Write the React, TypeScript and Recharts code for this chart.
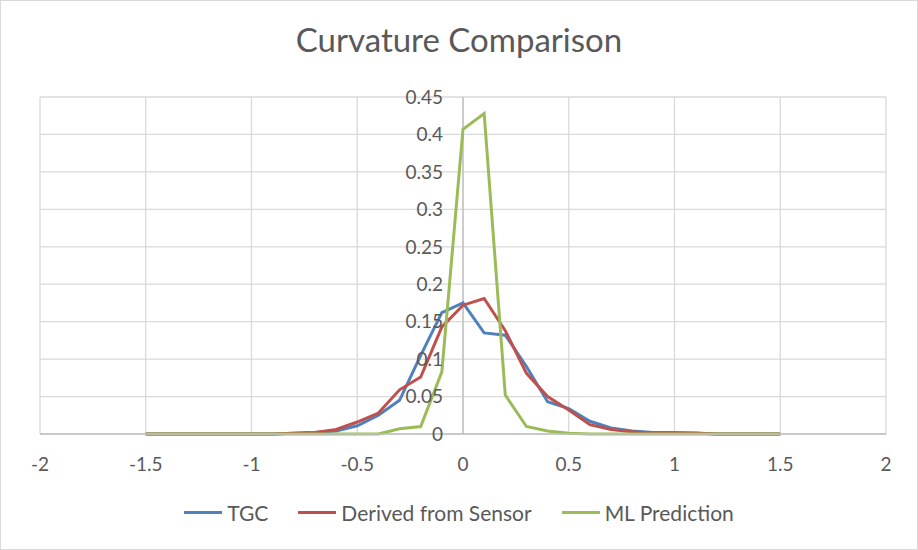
import React from 'react';
import {
  LineChart,
  Line,
  XAxis,
  YAxis,
  CartesianGrid,
  Legend,
  ReferenceLine,
  ReferenceDot,
} from 'recharts';

const xValues = [
  -1.5, -1.4, -1.3, -1.2, -1.1, -1.0, -0.9, -0.8, -0.7, -0.6, -0.5, -0.4, -0.3, -0.2, -0.1,
  0, 0.1, 0.2, 0.3, 0.4, 0.5, 0.6, 0.7, 0.8, 0.9, 1.0, 1.1, 1.2, 1.3, 1.4, 1.5,
];
const tgc = [
  0, 0, 0, 0, 0, 0, 0, 0.001, 0.002, 0.004, 0.011, 0.025, 0.045, 0.105, 0.162,
  0.175, 0.135, 0.132, 0.09, 0.043, 0.034, 0.017, 0.008, 0.004, 0.002, 0.002, 0.0015, 0, 0, 0, 0,
];
const sensor = [
  0, 0, 0, 0, 0, 0, 0, 0.001, 0.002, 0.006, 0.016, 0.028, 0.059, 0.076, 0.143,
  0.172, 0.181, 0.138, 0.081, 0.05, 0.032, 0.0125, 0.006, 0.003, 0.001, 0.001, 0.001, 0, 0, 0, 0,
];
const mlPrediction = [
  0, 0, 0, 0, 0, 0, 0, 0, 0, 0, 0, 0, 0.007, 0.01, 0.083,
  0.407, 0.428, 0.052, 0.01, 0.004, 0.001, 0, 0, 0, 0, 0, 0, 0, 0, 0, 0,
];
const xTicks = [-2, -1.5, -1, -0.5, 0, 0.5, 1, 1.5, 2];
const yTicks = [0, 0.05, 0.1, 0.15, 0.2, 0.25, 0.3, 0.35, 0.4, 0.45];

const series = [
  { key: 'tgc', name: 'TGC', color: '#4F81BD' },
  { key: 'sensor', name: 'Derived from Sensor', color: '#C0504D' },
  { key: 'ml', name: 'ML Prediction', color: '#9BBB59' },
];

const chartData = xValues.map((x, i) => ({
  x,
  tgc: tgc[i],
  sensor: sensor[i],
  ml: mlPrediction[i],
}));

const font = 'Lato, "Open Sans", sans-serif';
const textColor = '#595959';

const LegendContent = () => (
  <div style={{ display: 'flex', justifyContent: 'center', gap: 30, fontFamily: font, fontSize: 21, color: textColor }}>
    {series.map((s) => (
      <div key={s.key} style={{ display: 'flex', alignItems: 'center' }}>
        <span style={{ display: 'inline-block', width: 38, height: 3, background: s.color, marginRight: 5 }} />
        {s.name}
      </div>
    ))}
  </div>
);

export default function App() {
  return (
    <div
      style={{
        position: 'absolute',
        left: 0,
        top: 0,
        width: 918,
        height: 550,
        boxSizing: 'border-box',
        border: '1px solid #d9d9d9',
        background: '#fff',
      }}
    >
      <div
        style={{
          position: 'absolute',
          top: 18,
          width: '100%',
          textAlign: 'center',
          fontFamily: font,
          fontSize: 33,
          color: textColor,
        }}
      >
        Curvature Comparison
      </div>
      <div style={{ position: 'absolute', left: -1, top: -1 }}>
        <LineChart
          width={918}
          height={550}
          data={chartData}
          margin={{ top: 97, right: 32, left: 40, bottom: 76 }}
        >
          <CartesianGrid stroke="#d9d9d9" strokeWidth={1.3} />
          <XAxis
            dataKey="x"
            type="number"
            domain={[-2, 2]}
            ticks={xTicks}
            height={40}
            tickLine={false}
            tickMargin={18}
            axisLine={{ stroke: '#bfbfbf', strokeWidth: 1.3 }}
            tick={{ fill: textColor, fontSize: 19, fontFamily: font }}
          />
          <YAxis hide type="number" domain={[0, 0.45]} ticks={yTicks} />
          <ReferenceLine x={0} stroke="#bfbfbf" strokeWidth={1.3} />
          {yTicks.map((v) => (
            <ReferenceDot
              key={v}
              x={0}
              y={v}
              r={0}
              fill="none"
              stroke="none"
              label={{ value: String(v), position: 'left', offset: 20, fill: textColor, fontSize: 19, fontFamily: font }}
            />
          ))}
          <Legend
            verticalAlign="middle"
            align="center"
            layout="horizontal"
            wrapperStyle={{ top: 500, left: 0, width: 918 }}
            content={<LegendContent />}
          />
          {series.map((s) => (
            <Line
              key={s.key}
              type="linear"
              dataKey={s.key}
              name={s.name}
              stroke={s.color}
              strokeWidth={3}
              dot={false}
              isAnimationActive={false}
            />
          ))}
        </LineChart>
      </div>
    </div>
  );
}
